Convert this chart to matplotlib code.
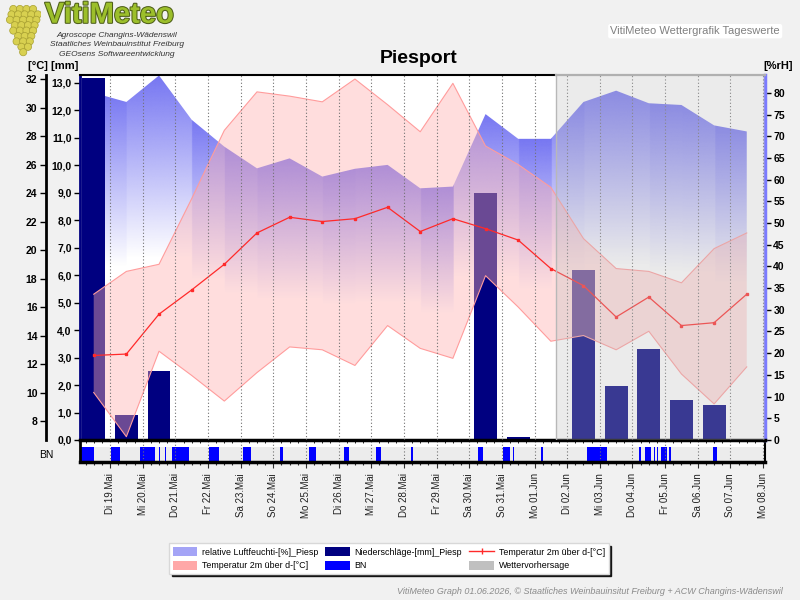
import numpy as np
import matplotlib
matplotlib.use('Agg')
import matplotlib.pyplot as plt
import matplotlib.patheffects as pe
from matplotlib.patches import Patch, Polygon, Circle
from matplotlib.lines import Line2D
from matplotlib.colors import to_rgb

plt.rcParams['font.family'] = ['Liberation Sans', 'DejaVu Sans']

# daily values, 18.Mai ... 07.Jun (plotted at noon)
temp_mean = [12.6, 12.7, 15.5, 17.2, 19.0, 21.2, 22.3, 22.0, 22.2, 23.0, 21.3,
             22.2, 21.5, 20.7, 18.7, 17.5, 15.3, 16.7, 14.7, 14.9, 16.9]
temp_max = [16.9, 18.5, 19.0, 23.6, 28.4, 31.1, 30.8, 30.4, 32.0, 30.2, 28.3,
            31.7, 27.3, 26.0, 24.4, 20.8, 18.7, 18.5, 17.7, 20.1, 21.2]
temp_min = [10.0, 6.9, 12.9, 11.2, 9.4, 11.4, 13.2, 13.0, 11.9, 14.7, 13.1,
            12.4, 18.2, 16.0, 13.6, 14.0, 13.0, 14.3, 11.3, 9.2, 11.8]
humidity = [80.0, 77.9, 84.0, 73.8, 67.6, 62.6, 64.9, 60.7, 62.5, 63.4, 58.0,
            58.4, 75.1, 69.4, 69.4, 77.9, 80.5, 77.6, 77.2, 72.5, 71.1]
precip = [13.17, 0.91, 2.51, 0, 0, 0, 0, 0, 0, 0, 0,
          0, 9.0, 0.1, 0, 6.19, 1.97, 3.31, 1.46, 1.27, 0]

# leaf wetness (BN) periods, days since 19.Mai 00:00
bn_start = [-0.90, 0.02, 0.92, 1.50, 1.67, 1.90, 3.03, 4.07, 5.21, 6.10, 7.16, 8.15, 9.22,
            11.27, 12.04, 12.34, 13.20, 14.61, 16.20, 16.39, 16.66, 16.75, 16.88, 17.11, 18.46]
bn_end = [-0.49, 0.31, 1.38, 1.54, 1.72, 2.42, 3.34, 4.32, 5.29, 6.31, 7.32, 8.30, 9.27,
          11.41, 12.26, 12.37, 13.25, 15.22, 16.25, 16.57, 16.69, 16.78, 17.05, 17.17, 18.58]

forecast_start = 13.65  # 01.Jun afternoon

day_labels = ['Di 19.Mai', 'Mi 20.Mai', 'Do 21.Mai', 'Fr 22.Mai', 'Sa 23.Mai', 'So 24.Mai',
              'Mo 25.Mai', 'Di 26.Mai', 'Mi 27.Mai', 'Do 28.Mai', 'Fr 29.Mai', 'Sa 30.Mai',
              'So 31.Mai', 'Mo 01.Jun', 'Di 02.Jun', 'Mi 03.Jun', 'Do 04.Jun', 'Fr 05.Jun',
              'Sa 06.Jun', 'So 07.Jun', 'Mo 08.Jun']

x = np.arange(len(temp_mean)) - 0.5
xlim = (-0.92, 20.06)
rh_top = 84.0
mm_top = 13.27
t_lim = (6.67, 32.25)

fig = plt.figure(figsize=(8, 6), dpi=100, facecolor='#f1f1f1')
rect = [0.1, 0.2667, 0.8563, 0.6075]

ax_p = fig.add_axes(rect)          # precipitation, left inner axis
ax_h = ax_p.twinx()                # humidity, right axis
ax_t = ax_p.twinx()                # temperature, left outer axis
ax_h.set_zorder(1)
ax_p.set_zorder(2)
ax_t.set_zorder(3)
ax_p.patch.set_visible(False)
ax_h.patch.set_visible(True)
ax_h.patch.set_facecolor('white')

# humidity: gradient per day segment, fading out at half of the segment max
hum = np.array(humidity)
xs = np.linspace(x[0], x[-1], 1400)
ys = np.linspace(0, rh_top, 800)
seg = np.clip(np.floor(xs - x[0]).astype(int), 0, len(hum) - 2)
gmax = np.maximum(hum[seg], hum[seg + 1])
gmin = 0.5 * gmax
alpha = np.clip((ys[:, None] - gmin[None, :]) / (gmax - gmin)[None, :], 0, 1)
img = np.zeros((len(ys), len(xs), 4))
img[..., :3] = to_rgb('#7676f2')
img[..., 3] = alpha
im = ax_h.imshow(img, origin='lower', extent=(x[0], x[-1], 0, rh_top),
                 aspect='auto', interpolation='bilinear', zorder=1)
verts = [(x[0], 0)] + list(zip(x, hum)) + [(x[-1], 0)]
clip = Polygon(verts, closed=True, facecolor='none', edgecolor='none',
               transform=ax_h.transData)
ax_h.add_patch(clip)
im.set_clip_path(clip)
ax_h.set_ylim(0, rh_top)
ax_h.set_xlim(*xlim)

# precipitation bars
ax_p.bar(x, precip, width=0.7, color='#000080', zorder=2)
ax_p.set_ylim(0, mm_top)
ax_p.set_xlim(*xlim)

# temperature band and mean
ax_t.fill_between(x, temp_min, temp_max, facecolor='#ffb0b0', alpha=0.42,
                  edgecolor='none', zorder=2)
ax_t.plot(x, temp_max, color='#ff9c9c', lw=0.8, zorder=3)
ax_t.plot(x, temp_min, color='#ff9c9c', lw=0.8, zorder=3)
ax_t.plot(x, temp_mean, color='#ff2a2a', lw=0.9, marker='s', ms=2, zorder=4)
ax_t.set_ylim(*t_lim)
ax_t.set_xlim(*xlim)

for d in range(len(day_labels)):
    ax_t.axvline(d, color='#707070', ls=(0, (1, 2)), lw=0.8, zorder=4)

# forecast overlay
ax_t.axvspan(forecast_start, xlim[1], color='#bebebe', alpha=0.3, lw=0, zorder=5)
ax_t.axvline(forecast_start, color='#b8b8b8', lw=1, zorder=5)
ax_t.plot([forecast_start, xlim[1]], [t_lim[1], t_lim[1]], color='#b0b0b0', lw=1.6,
          clip_on=False, zorder=6)

# spines
for a in (ax_p, ax_h, ax_t):
    for s in a.spines.values():
        s.set_visible(False)
    a.tick_params(axis='x', bottom=False, labelbottom=False, top=False)
ax_p.spines['left'].set_visible(True)
ax_p.spines['left'].set_color('#000080')
ax_p.spines['left'].set_linewidth(2)
ax_p.spines['bottom'].set_visible(True)
ax_p.spines['bottom'].set_linewidth(2.5)
ax_p.spines['top'].set_visible(True)
ax_p.spines['top'].set_linewidth(1.5)
ax_p.spines['top'].set_bounds(xlim[0], forecast_start)
ax_h.spines['right'].set_visible(True)
ax_h.spines['right'].set_color('#7b7bff')
ax_h.spines['right'].set_linewidth(2.5)
ax_t.yaxis.tick_left()
ax_t.spines['left'].set_visible(True)
ax_t.spines['left'].set_position(('axes', -0.05))
ax_t.spines['left'].set_linewidth(2)

mm_ticks = np.arange(0, 14)
ax_p.set_yticks(mm_ticks, [f'{v:.1f}'.replace('.', ',') for v in mm_ticks],
                fontweight='bold', fontsize=7.5)
t_ticks = np.arange(8, 33, 2)
ax_t.set_yticks(t_ticks, [str(v) for v in t_ticks], fontweight='bold', fontsize=7.5)
rh_ticks = np.arange(0, 81, 5)
ax_h.set_yticks(rh_ticks, [str(v) for v in rh_ticks], fontweight='bold', fontsize=7.5)
for a in (ax_p, ax_h, ax_t):
    a.tick_params(axis='y', direction='out', length=4, width=1, pad=2, color='black')

# BN strip
ax_bn = fig.add_axes([0.1, 0.23, 0.8563, 0.0367], sharex=ax_p)
ax_bn.set_facecolor('white')
ax_bn.axhspan(0, 1, color='#ececec', lw=0)
ax_bn.broken_barh([(s, e - s) for s, e in zip(bn_start, bn_end)], (0, 1),
                  facecolor='#0000ff', edgecolor='none')
for d in range(len(day_labels)):
    ax_bn.axvline(d, color='#707070', ls=(0, (1, 2)), lw=0.8)
ax_bn.set_ylim(0, 1.5)
ax_bn.set_xlim(*xlim)
ax_bn.set_yticks([])
ax_bn.spines['top'].set_visible(False)
ax_bn.spines['bottom'].set_linewidth(2.5)
ax_bn.spines['left'].set_linewidth(2)
ax_bn.spines['right'].set_linewidth(1.5)
ax_bn.set_xticks(np.arange(len(day_labels)), day_labels, rotation=90, fontsize=7,
                 color='#202020')
ax_bn.set_xticks(np.arange(-0.75, 20.01, 0.25), minor=True)
ax_bn.tick_params(axis='x', which='major', length=4, width=0.8, pad=4, color='#303030')
ax_bn.tick_params(axis='x', which='minor', length=2, width=0.8, color='#303030')
fig.text(0.058, 0.242, 'BN', fontsize=7.5, ha='center', va='center')

# header texts
fig.text(0.523, 0.903, 'Piesport', fontsize=14, fontweight='bold', ha='center', va='center')
fig.text(0.035, 0.89, '[°C] [mm]', fontsize=8, fontweight='bold', va='center')
fig.text(0.954, 0.89, '[%rH]', fontsize=8, fontweight='bold', va='center')
fig.text(0.975, 0.948, 'VitiMeteo Wettergrafik Tageswerte', fontsize=8, color='#808080',
         ha='right', va='center',
         bbox=dict(boxstyle='round,pad=0.2', facecolor='white', edgecolor='none'))

# logo
fig.text(0.056, 0.962, 'VitiMeteo', fontsize=21, fontweight='bold', color='#9cbf2b',
         va='baseline', path_effects=[pe.withStroke(linewidth=1.5, foreground='#4f5f1a')])
for i, line in enumerate(['Agroscope Changins-Wädenswil',
                          'Staatliches Weinbauinstitut Freiburg',
                          'GEOsens Softwareentwicklung']):
    fig.text(0.146, 0.941 - i * 0.0155, line, fontsize=6, style='italic', color='#333333',
             ha='center', va='center')

logo = fig.add_axes([0.004, 0.905, 0.05, 0.09])
logo.set_xlim(0, 6)
logo.set_ylim(0, 9)
logo.set_aspect('equal')
logo.axis('off')
rows = [4, 5, 5, 4, 4, 3, 3, 2, 1]
for r, n in enumerate(rows):
    for k in range(n):
        cx = 3 - (n - 1) * 0.55 + k * 1.1 + (0.25 if r % 2 else 0)
        logo.add_patch(Circle((cx, 8 - r * 0.9), 0.6, facecolor='#d8d050',
                              edgecolor='#a8a030', lw=0.5))

# legend
handles = [Patch(facecolor='#a4a4f6'), Patch(facecolor='#ffa8a8'),
           Patch(facecolor='#000080'), Patch(facecolor='#0000ff'),
           Line2D([], [], color='#ff2a2a', lw=1, marker='|', ms=4),
           Patch(facecolor='#c0c0c0')]
labels = ['relative Luftfeuchti-[%]_Piesp', 'Temperatur 2m über d-[°C]',
          'Niederschläge-[mm]_Piesp', 'BN',
          'Temperatur 2m über d-[°C]', 'Wettervorhersage']
fig.legend(handles, labels, loc='center', bbox_to_anchor=(0.486, 0.069), ncol=3,
           fontsize=6.4, frameon=True, fancybox=False, edgecolor='#d8d8d8',
           facecolor='white', framealpha=1, handlelength=2.8, handleheight=1.2,
           columnspacing=0.8, labelspacing=0.45, borderpad=0.4, handletextpad=0.5,
           shadow={'color': 'black', 'alpha': 0.85})

fig.text(0.979, 0.015, 'VitiMeteo Graph 01.06.2026, © Staatliches Weinbauinsitut Freiburg '
         '+ ACW Changins-Wädenswil', fontsize=6.5, style='italic', color='#8a8a8a',
         ha='right', va='center')

fig.savefig('out.png', dpi=100, facecolor=fig.get_facecolor())
